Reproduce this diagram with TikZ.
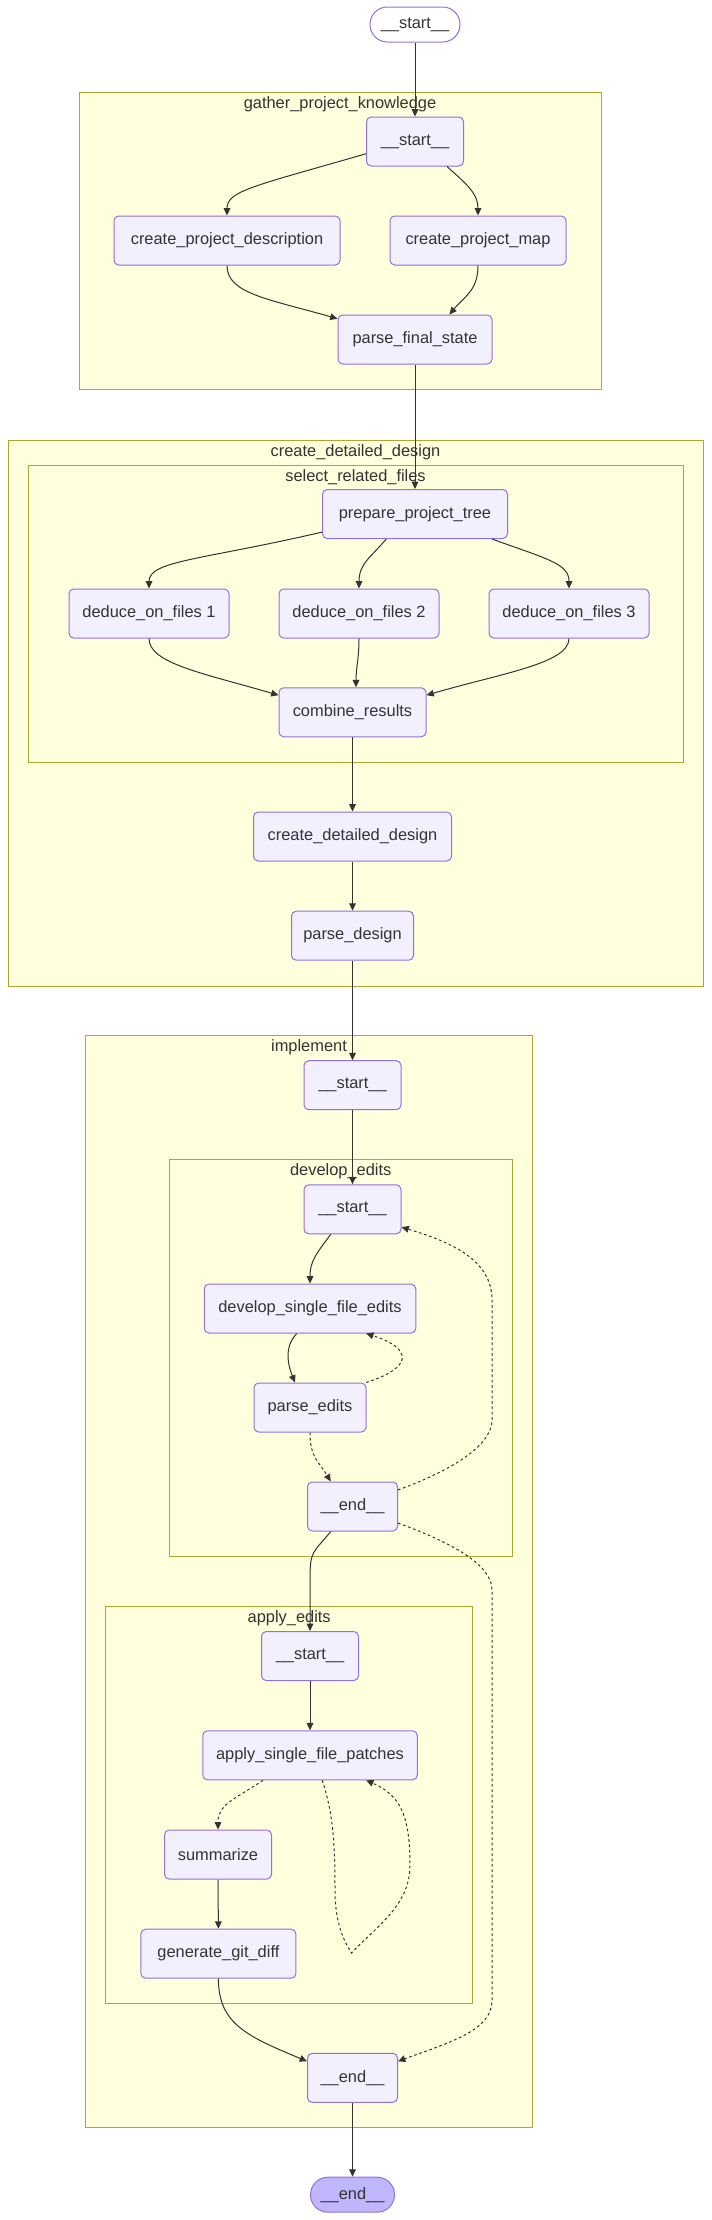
\documentclass[tikz,border=0pt]{standalone}
\usepackage{fontspec}
\setmainfont{Liberation Sans}
\usetikzlibrary{arrows.meta,calc}
\definecolor{nodefill}{HTML}{F2F0FF}
\definecolor{nodeline}{HTML}{9370DB}
\definecolor{clfill}{HTML}{FFFFDE}
\definecolor{clline}{HTML}{AAAA33}
\definecolor{edgec}{HTML}{333333}
\definecolor{endfill}{HTML}{BFB6FC}
\begin{document}
\begin{tikzpicture}[x=0.75pt,y=-0.75pt,
  lbl/.style={font=\fontsize{12.3pt}{14pt}\selectfont, text=edgec},
  box/.style={lbl, draw=nodeline, fill=nodefill, line width=0.75pt, rounded corners=3.5pt, minimum height=36.75pt, inner sep=0pt},
  bw/.style={minimum width=#1*0.75pt},
  pill/.style={lbl, draw=nodeline, line width=0.75pt, rounded corners=13pt, minimum height=26.25pt, inner sep=0pt},
  cluster/.style={draw=clline, fill=clfill, line width=0.75pt},
  edge/.style={draw=edgec, line width=0.75pt, -{Triangle[length=5.5pt,width=5pt]}},
  dotedge/.style={edge, dash pattern=on 2pt off 2pt},
]
\useasboundingbox[fill=white] (0,0) rectangle (711,2220);

% clusters
\path[cluster] (79,92) rectangle (601,389);
\path[cluster] (8,440) rectangle (703,986);
\path[cluster] (28,465) rectangle (683,762);
\path[cluster] (85.7,1035.7) rectangle (532.4,2127.3);
\path[cluster] (169,1159.3) rectangle (512.5,1556.7);
\path[cluster] (105.7,1606.7) rectangle (472.6,2003.3);

% cluster labels
\node[lbl] (lgpk) at (340,104) {gather\_project\_knowledge};
\node[lbl] (lcdd) at (355.5,452) {create\_detailed\_design};
\node[lbl] (lsrf) at (355.5,477) {select\_related\_files};
\node[lbl] (limp) at (309,1047.7) {implement};
\node[lbl] (ldev) at (340.7,1171.5) {develop\_edits};
\node[lbl] (lae) at (289.2,1618.7) {apply\_edits};

% nodes
\node[pill, fill=white, bw=90] (ts) at (415,24.5) {\_\_start\_\_};
\node[box, bw=97] (gs) at (415,141.5) {\_\_start\_\_};
\node[box, bw=226] (cpd) at (227,240.5) {create\_project\_description};
\node[box, bw=176] (cpm) at (478,240.5) {create\_project\_map};
\node[box, bw=154] (pfs) at (415,339.5) {parse\_final\_state};
\node[box, bw=185] (ppt) at (415,514) {prepare\_project\_tree};
\node[box, bw=160] (d1) at (149,613.5) {deduce\_on\_files 1};
\node[box, bw=160] (d2) at (359,613.5) {deduce\_on\_files 2};
\node[box, bw=160] (d3) at (569,613.5) {deduce\_on\_files 3};
\node[box, bw=147] (cr) at (352.5,712.3) {combine\_results};
\node[box, bw=198] (cdd) at (352.5,836.5) {create\_detailed\_design};
\node[box, bw=122] (pd) at (352.5,935.7) {parse\_design};
\node[box, bw=97] (is) at (352.5,1085.2) {\_\_start\_\_};
\node[box, bw=97] (ds) at (352.5,1209.3) {\_\_start\_\_};
\node[box, bw=211.5] (dsfe) at (310,1308.5) {develop\_single\_file\_edits};
\node[box, bw=112] (pe) at (310,1407.5) {parse\_edits};
\node[box, bw=90] (de) at (352.5,1506.5) {\_\_end\_\_};
\node[box, bw=97] (aes) at (310,1656) {\_\_start\_\_};
\node[box, bw=214.5] (asfp) at (310,1755.3) {apply\_single\_file\_patches};
\node[box, bw=107] (sum) at (218,1854.5) {summarize};
\node[box, bw=155] (ggd) at (218.4,1953.7) {generate\_git\_diff};
\node[box, bw=90] (ie) at (352.5,2077.8) {\_\_end\_\_};
\node[pill, fill=endfill, bw=84] (fe) at (352.5,2194.7) {\_\_end\_\_};
\coordinate (loopc) at (351.5,1953);

% edges
\draw[edge] (ts.south) -- (gs.north);
\draw[edge] (gs.194) .. controls +(-110,32) and +(0,-25) .. (cpd.north);
\draw[edge] (gs.322) .. controls +(20,18) and +(0,-22) .. (cpm.north);
\draw[edge] (cpd.south) .. controls +(0,28) and +(-70,-20) .. (pfs.165);
\draw[edge] (cpm.south) .. controls +(0,25) and +(15,-18) .. (pfs.36);
\draw[edge] (pfs.south) -- (ppt.north);
\draw[edge] (ppt.191) .. controls +(-120,28) and +(0,-28) .. (d1.north);
\draw[edge] (ppt.221) .. controls +(-15,18) and +(0,-25) .. (d2.north);
\draw[edge] (ppt.342) .. controls +(55,20) and +(0,-25) .. (d3.north);
\draw[edge] (d1.south) .. controls +(0,25) and +(-75,-22) .. (cr.167);
\draw[edge] (d2.south) .. controls +(0,20) and +(0,-20) .. (cr.82);
\draw[edge] (d3.south) .. controls +(0,25) and +(75,-22) .. (cr.13);
\draw[edge] (cr.south) -- (cdd.north);
\draw[edge] (cdd.south) -- (pd.north);
\draw[edge] (pd.south) -- (is.north);
\draw[edge] (is.south) -- (ds.north);
\draw[edge] (ds.229) .. controls +(-15,20) and +(0,-22) .. (dsfe.north);
\draw[edge] (dsfe.242) .. controls +(-14,15) and +(-6,-15) .. (pe.121);
\draw[dotedge] (pe.24) .. controls +(47,-15) and +(47,15) .. (dsfe.336);
\draw[dotedge] (pe.south) .. controls +(0,25) and +(-12,-20) .. (de.131);
\draw[dotedge] (de.20) .. controls +(55,-20) and +(0,25) .. (492,1420) -- (492,1300) .. controls +(0,-40) and +(50,15) .. (ds.340);
\draw[edge] (de.229) .. controls +(-18,22) and +(0,-30) .. (310,1580) -- (aes.north);
\draw[dotedge] (de.340) .. controls +(55,20) and +(0,-25) .. (492,1590) -- (492,2000) .. controls +(0,30) and +(55,-20) .. (ie.20);
\draw[edge] (aes.south) -- (asfp.north);
\draw[dotedge] (asfp.208) .. controls +(-30,20) and +(0,-25) .. (sum.north);
\draw[dotedge] (asfp.296) .. controls (334,1815) and (335,1850) .. (335,1890) .. controls (335,1920) and (342,1938) .. (loopc) .. controls (378,1925) and (410,1905) .. (410,1865) .. controls (410,1815) and (400,1795) .. (asfp.336);
\draw[edge] (sum.south) -- (ggd.north);
\draw[edge] (ggd.south) .. controls +(0,45) and +(-60,-25) .. (ie.160);
\draw[edge] (ie.south) -- (fe.north);
\end{tikzpicture}
\end{document}
